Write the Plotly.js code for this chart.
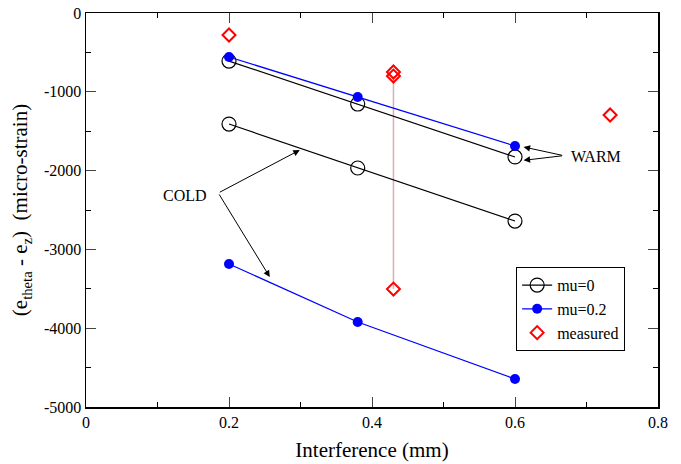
<!DOCTYPE html>
<html><head><meta charset="utf-8">
<script src="https://cdn.plot.ly/plotly-3.0.1.min.js"></script>
<style>html,body{margin:0;padding:0;background:#fff}#chart{width:681px;height:464px}</style>
</head><body><div id="chart"></div>
<script>
const interference = [0.2, 0.38, 0.6];
const mu0Warm = [-610, -1155, -1827];
const mu0Cold = [-1409, -1967, -2640];
const mu02Warm = [-558, -1066, -1688];
const mu02Cold = [-3185, -3921, -4645];
const measuredX = [0.2, 0.43, 0.43, 0.43, 0.733];
const measuredY = [-279, -749, -800, -3503, -1294];
const rangeX = [0.43, 0.43];
const rangeY = [-800, -3503];
const yTickVals = [0, -1000, -2000, -3000, -4000, -5000];
const yTickLabels = ['0', '-1000', '-2000', '-3000', '-4000', '-5000'];
const xTickVals = [0, 0.2, 0.4, 0.6, 0.8];
const xTickLabels = ['0', '0.2', '0.4', '0.6', '0.8'];

const serif = "Liberation Serif";
const openCircle = {symbol:'circle-open', size:14, color:'black', line:{width:1.2, color:'black'}};
const filledCircle = {symbol:'circle', size:10, color:'#0000ff'};

const traces = [
  {x:rangeX, y:rangeY, mode:'lines', line:{color:'#d8b0b0', width:1.5}, showlegend:false, hoverinfo:'skip'},
  {x:interference, y:mu0Warm, mode:'lines+markers', name:'mu=0', line:{color:'black', width:1.2}, marker:openCircle},
  {x:interference, y:mu0Cold, mode:'lines+markers', name:'mu=0', showlegend:false, line:{color:'black', width:1.2}, marker:openCircle},
  {x:interference, y:mu02Warm, mode:'lines+markers', name:'mu=0.2', line:{color:'#0000ff', width:1.2}, marker:filledCircle},
  {x:interference, y:mu02Cold, mode:'lines+markers', name:'mu=0.2', showlegend:false, line:{color:'#0000ff', width:1.2}, marker:filledCircle},
  {x:measuredX, y:measuredY, mode:'markers', name:'measured', marker:{symbol:'diamond-open', size:10, color:'#ff0000', line:{width:2, color:'#ff0000'}}}
];

function arrow(tx, ty, hx, hy){
  return {x:hx, y:hy, ax:tx, ay:ty, xref:'x', yref:'y', axref:'x', ayref:'y', text:'', showarrow:true,
          arrowhead:2, arrowsize:1.3, arrowwidth:1, arrowcolor:'black'};
}

const layout = {
  width:681, height:464,
  margin:{l:86, r:23, t:13, b:57},
  paper_bgcolor:'white', plot_bgcolor:'white',
  font:{family:serif, color:'black', size:15},
  showlegend:true,
  legend:{x:0.752, y:0.355, xanchor:'left', yanchor:'top', bordercolor:'black', borderwidth:1,
          bgcolor:'white', font:{family:serif, size:16}, tracegroupgap:0, itemwidth:30},
  xaxis:{range:[0, 0.8], tickvals:xTickVals, ticktext:xTickLabels, showgrid:false, zeroline:false,
         showline:true, linecolor:'black', linewidth:1.5, mirror:'allticks', ticks:'inside', ticklen:10, tickwidth:1,
         tickfont:{family:serif, size:16},
         minor:{dtick:0.1, ticks:'inside', ticklen:5, tickcolor:'black', showgrid:false},
         title:{text:'Interference (mm)', font:{family:serif, size:21}, standoff:12}},
  yaxis:{range:[-5000, 0], tickvals:yTickVals, ticktext:yTickLabels, showgrid:false, zeroline:false,
         showline:true, linecolor:'black', linewidth:1.5, mirror:'allticks', ticks:'inside', ticklen:10, tickwidth:1,
         tickfont:{family:serif, size:16},
         minor:{dtick:500, ticks:'inside', ticklen:5, tickcolor:'black', showgrid:false},
         title:{text:'(e<sub>theta</sub> - e<sub>z</sub>)  (micro-strain)', font:{family:serif, size:21}, standoff:10}},
  annotations:[
    {x:0.138, y:-2322, xref:'x', yref:'y', text:'COLD', showarrow:false, font:{family:serif, size:16}},
    {x:0.713, y:-1827, xref:'x', yref:'y', text:'WARM', showarrow:false, font:{family:serif, size:16}},
    arrow(0.185, -2284, 0.299, -1739),
    arrow(0.185, -2284, 0.257, -3350),
    arrow(0.668, -1810, 0.612, -1700),
    arrow(0.668, -1810, 0.612, -1870)
  ]
};

Plotly.newPlot('chart', traces, layout, {displayModeBar:false, staticPlot:true});
</script></body></html>
